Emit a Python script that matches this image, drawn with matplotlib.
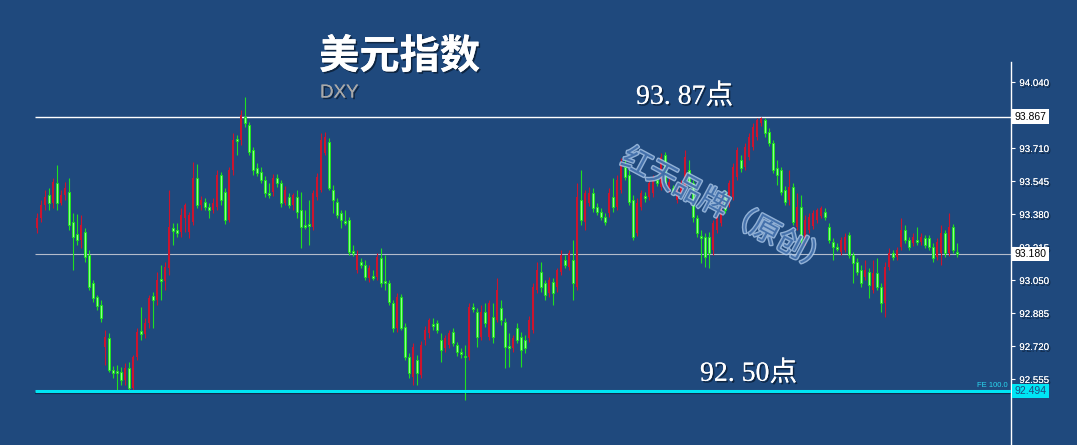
import matplotlib
matplotlib.use('Agg')
import matplotlib.pyplot as plt
import matplotlib.patheffects as pe
import numpy as np

# DXY candles, oldest first
opens = [93.31, 93.36, 93.425, 93.475, 93.435, 93.535, 93.435, 93.475, 93.49, 93.34,
         93.28, 93.25, 93.29, 93.175, 93.035, 92.965, 92.925, 92.715, 92.76, 92.6,
         92.595, 92.59, 92.55, 92.61, 92.51, 92.665, 92.795, 92.78, 92.835, 92.97,
         92.95, 93.055, 93.045, 93.11, 93.31, 93.3, 93.29, 93.36, 93.29, 93.34,
         93.56, 93.425, 93.44, 93.415, 93.4, 93.415, 93.575, 93.49, 93.35, 93.6,
         93.755, 93.75, 93.865, 93.825, 93.7, 93.61, 93.59, 93.55, 93.485, 93.49,
         93.56, 93.535, 93.435, 93.465, 93.425, 93.465, 93.4, 93.325, 93.33, 93.315,
         93.465, 93.5, 93.685, 93.74, 93.5, 93.44, 93.385, 93.345, 93.35, 93.195,
         93.1, 93.14, 93.125, 93.06, 93.07, 93.065, 93.16, 93.045, 93.035, 92.935,
         92.81, 92.965, 92.815, 92.665, 92.565, 92.65, 92.575, 92.75, 92.785, 92.83,
         92.835, 92.75, 92.71, 92.725, 92.79, 92.725, 92.69, 92.67, 92.665, 92.915,
         92.89, 92.765, 92.89, 92.765, 92.865, 92.85, 92.91, 92.84, 92.72, 92.71,
         92.81, 92.765, 92.75, 92.76, 92.8, 93.0, 93.09, 93.035, 92.985, 93.04,
         93.015, 93.09, 93.15, 93.115, 93.15, 93.015, 93.45, 93.34, 93.435, 93.485,
         93.415, 93.39, 93.365, 93.385, 93.465, 93.415, 93.5, 93.615, 93.575, 93.45,
         93.285, 93.415, 93.47, 93.465, 93.485, 93.55, 93.515, 93.675, 93.51, 93.51,
         93.45, 93.485, 93.515, 93.6, 93.535, 93.36, 93.27, 93.265, 93.265, 93.2,
         93.3, 93.335, 93.485, 93.435, 93.465, 93.565, 93.65, 93.615, 93.665, 93.715,
         93.765, 93.835, 93.85, 93.79, 93.735, 93.61, 93.6, 93.5, 93.45, 93.515,
         93.315, 93.415, 93.24, 93.3, 93.32, 93.35, 93.37, 93.39, 93.315, 93.24,
         93.215, 93.19, 93.2, 93.275, 93.175, 93.14, 93.1, 93.065, 93.09, 93.0,
         93.085, 93.015, 92.935, 93.115, 93.185, 93.165, 93.215, 93.3, 93.25, 93.235,
         93.25, 93.24, 93.26, 93.26, 93.215, 93.165, 93.185, 93.285, 93.185, 93.315,
         93.19]
closes = [93.36, 93.425, 93.465, 93.435, 93.54, 93.435, 93.475, 93.51, 93.325, 93.265,
          93.25, 93.325, 93.165, 93.015, 92.96, 92.92, 92.86, 92.765, 92.6, 92.585,
          92.585, 92.55, 92.61, 92.51, 92.665, 92.79, 92.78, 92.835, 92.96, 92.95,
          93.05, 93.045, 93.115, 93.315, 93.295, 93.285, 93.375, 93.425, 93.375, 93.56,
          93.425, 93.45, 93.415, 93.4, 93.435, 93.575, 93.45, 93.35, 93.6, 93.75,
          93.745, 93.875, 93.835, 93.69, 93.6, 93.585, 93.55, 93.485, 93.475, 93.56,
          93.535, 93.435, 93.5, 93.425, 93.475, 93.39, 93.315, 93.315, 93.32, 93.485,
          93.565, 93.75, 93.765, 93.51, 93.45, 93.375, 93.35, 93.335, 93.19, 93.185,
          93.175, 93.125, 93.065, 93.11, 93.06, 93.165, 93.035, 93.035, 92.94, 92.81,
          92.965, 92.81, 92.665, 92.585, 92.715, 92.585, 92.725, 92.8, 92.85, 92.82,
          92.8, 92.7, 92.76, 92.785, 92.735, 92.69, 92.68, 92.665, 92.915, 92.905,
          92.765, 92.89, 92.835, 92.935, 92.765, 93.0, 92.85, 92.715, 92.71, 92.76,
          92.75, 92.7, 92.71, 92.85, 93.015, 93.1, 93.015, 92.975, 93.05, 92.985,
          93.1, 93.175, 93.125, 93.185, 93.035, 93.465, 93.35, 93.485, 93.485, 93.41,
          93.39, 93.365, 93.34, 93.485, 93.415, 93.55, 93.635, 93.565, 93.44, 93.265,
          93.435, 93.485, 93.46, 93.535, 93.55, 93.535, 93.665, 93.535, 93.54, 93.49,
          93.5, 93.535, 93.665, 93.535, 93.365, 93.285, 93.26, 93.165, 93.185, 93.335,
          93.365, 93.465, 93.4, 93.535, 93.615, 93.7, 93.61, 93.715, 93.765, 93.815,
          93.85, 93.86, 93.785, 93.735, 93.6, 93.575, 93.49, 93.44, 93.515, 93.34,
          93.415, 93.25, 93.35, 93.365, 93.385, 93.4, 93.41, 93.365, 93.25, 93.215,
          93.205, 93.25, 93.265, 93.175, 93.135, 93.09, 93.035, 93.1, 93.025, 93.085,
          93.015, 92.935, 93.115, 93.185, 93.165, 93.2, 93.3, 93.25, 93.215, 93.265,
          93.24, 93.265, 93.225, 93.215, 93.16, 93.24, 93.285, 93.185, 93.315, 93.2,
          93.18]
highs = [93.385, 93.45, 93.5, 93.51, 93.56, 93.625, 93.5, 93.54, 93.56, 93.385,
         93.38, 93.375, 93.31, 93.2, 93.05, 92.975, 92.95, 92.8, 92.785, 92.62,
         92.625, 92.615, 92.635, 92.64, 92.675, 92.81, 92.915, 92.86, 92.975, 92.99,
         93.09, 93.125, 93.14, 93.5, 93.335, 93.335, 93.41, 93.435, 93.39, 93.64,
         93.63, 93.47, 93.46, 93.435, 93.46, 93.6, 93.59, 93.51, 93.615, 93.785,
         93.775, 93.9, 93.965, 93.84, 93.715, 93.635, 93.615, 93.57, 93.535, 93.58,
         93.58, 93.55, 93.52, 93.485, 93.485, 93.5, 93.49, 93.4, 93.45, 93.5,
         93.585, 93.785, 93.79, 93.76, 93.525, 93.46, 93.4, 93.4, 93.365, 93.225,
         93.2, 93.16, 93.15, 93.125, 93.1, 93.185, 93.21, 93.175, 93.05, 92.95,
         92.985, 92.98, 92.835, 92.685, 92.735, 92.675, 92.745, 92.82, 92.86, 92.86,
         92.85, 92.785, 92.775, 92.8, 92.81, 92.74, 92.71, 92.725, 92.935, 92.935,
         92.91, 92.925, 92.935, 92.95, 92.935, 93.06, 92.95, 92.86, 92.785, 92.775,
         92.835, 92.79, 92.775, 92.87, 93.035, 93.14, 93.14, 93.05, 93.065, 93.06,
         93.11, 93.2, 93.175, 93.2, 93.25, 93.535, 93.6, 93.5, 93.515, 93.51,
         93.435, 93.41, 93.385, 93.51, 93.56, 93.575, 93.66, 93.65, 93.6, 93.475,
         93.46, 93.5, 93.49, 93.55, 93.575, 93.575, 93.685, 93.69, 93.56, 93.525,
         93.525, 93.55, 93.7, 93.65, 93.55, 93.375, 93.3, 93.285, 93.29, 93.35,
         93.385, 93.485, 93.5, 93.55, 93.635, 93.715, 93.675, 93.735, 93.785, 93.835,
         93.86, 93.865, 93.86, 93.81, 93.75, 93.65, 93.615, 93.52, 93.6, 93.535,
         93.485, 93.475, 93.375, 93.385, 93.4, 93.41, 93.42, 93.41, 93.335, 93.26,
         93.235, 93.265, 93.285, 93.29, 93.19, 93.16, 93.125, 93.15, 93.11, 93.15,
         93.16, 93.035, 93.14, 93.21, 93.2, 93.215, 93.36, 93.325, 93.265, 93.285,
         93.315, 93.285, 93.275, 93.275, 93.235, 93.26, 93.325, 93.3, 93.385, 93.33,
         93.235]
lows = [93.285, 93.34, 93.4, 93.4, 93.41, 93.4, 93.425, 93.45, 93.3, 93.1,
        93.225, 93.21, 93.14, 93.0, 92.94, 92.9, 92.84, 92.625, 92.59, 92.56,
        92.5, 92.525, 92.525, 92.495, 92.49, 92.65, 92.75, 92.76, 92.81, 92.81,
        92.925, 92.95, 93.0, 93.075, 93.225, 93.265, 93.265, 93.29, 93.26, 93.325,
        93.41, 93.4, 93.4, 93.36, 93.385, 93.4, 93.425, 93.33, 93.34, 93.575,
        93.675, 93.725, 93.815, 93.675, 93.575, 93.57, 93.535, 93.465, 93.46, 93.47,
        93.515, 93.415, 93.425, 93.41, 93.4, 93.36, 93.21, 93.305, 93.225, 93.3,
        93.45, 93.49, 93.675, 93.5, 93.385, 93.36, 93.31, 93.325, 93.175, 93.17,
        93.085, 93.11, 93.05, 93.04, 93.05, 93.05, 93.015, 93.0, 92.925, 92.79,
        92.79, 92.8, 92.65, 92.56, 92.525, 92.525, 92.56, 92.725, 92.76, 92.8,
        92.785, 92.64, 92.69, 92.71, 92.72, 92.67, 92.66, 92.45, 92.65, 92.89,
        92.715, 92.75, 92.815, 92.75, 92.735, 92.84, 92.825, 92.61, 92.615, 92.69,
        92.735, 92.615, 92.685, 92.74, 92.785, 92.985, 92.99, 92.95, 92.965, 92.925,
        92.99, 93.075, 93.11, 93.1, 92.95, 93.0, 93.325, 93.3, 93.42, 93.39,
        93.375, 93.35, 93.325, 93.365, 93.39, 93.4, 93.485, 93.55, 93.425, 93.25,
        93.27, 93.4, 93.44, 93.45, 93.465, 93.52, 93.5, 93.515, 93.49, 93.475,
        93.435, 93.465, 93.5, 93.52, 93.34, 93.265, 93.135, 93.115, 93.11, 93.175,
        93.285, 93.32, 93.385, 93.415, 93.45, 93.55, 93.59, 93.6, 93.65, 93.7,
        93.75, 93.82, 93.765, 93.72, 93.585, 93.525, 93.475, 93.425, 93.425, 93.325,
        93.3, 93.235, 93.225, 93.285, 93.305, 93.335, 93.36, 93.35, 93.235, 93.15,
        93.195, 93.175, 93.19, 93.16, 93.035, 93.075, 93.015, 93.05, 92.96, 92.985,
        93.0, 92.89, 92.865, 93.1, 93.15, 93.15, 93.2, 93.235, 93.2, 93.22,
        93.225, 93.225, 93.21, 93.2, 93.14, 93.15, 93.125, 93.165, 93.17, 93.185,
        93.165]

tick_values = [94.040, 93.710, 93.545, 93.380, 93.215, 93.050, 92.885, 92.720, 92.555]
resistance = 93.867
last_price = 93.180
support = 92.494

bg = '#1f497d'
up_color = '#cc142e'
down_edge = '#1fe01f'
down_face = '#8cff8c'

W, H = 1077, 445
fig = plt.figure(figsize=(W / 100, H / 100), dpi=100)
fig.patch.set_facecolor(bg)
ax = fig.add_axes([0, 0, 1011 / W, 383 / H])
ax.set_facecolor(bg)

o = np.array(opens)
c = np.array(closes)
h = np.array(highs)
l = np.array(lows)
x = np.arange(len(c))
up = c >= o

ax.set_xlim(-37 / 4, 974 / 4)
ax.set_ylim(92.225, 94.14)

shadow = [pe.withSimplePatchShadow(offset=(1.2, -1.2), shadow_rgbFace='#081628', alpha=0.7), pe.Normal()]

# level lines
x_end = 974 / 4
ax.hlines(resistance, -0.5, x_end, color='white', lw=1.0, zorder=1)
ax.hlines(last_price, -0.5, x_end, color='#b4bccb', lw=0.8, zorder=1)
ax.hlines(support - 0.011, -0.5, x_end, color='#10284a', lw=1.6, zorder=1)
ax.hlines(support, -0.5, x_end, color='#00e5f5', lw=2.2, zorder=4)

# candles
ax.vlines(x[up], l[up], h[up], color=up_color, lw=0.8, zorder=2)
ax.vlines(x[~up], l[~up], h[~up], color=down_edge, lw=0.8, zorder=2)
body_low = np.minimum(o, c)
body_h = np.maximum(np.abs(c - o), 0.004)
ax.bar(x[up], body_h[up], bottom=body_low[up], width=0.6, color=up_color,
       linewidth=0, zorder=3)
ax.bar(x[~up], body_h[~up], bottom=body_low[~up], width=0.7, facecolor=down_face,
       edgecolor=down_edge, linewidth=0.7, zorder=3)

# axes styling
for side in ['top', 'left', 'bottom']:
    ax.spines[side].set_visible(False)
ax.spines['right'].set_color('white')
ax.spines['right'].set_linewidth(1.0)
ax.set_xticks([])
ax.yaxis.tick_right()
ax.set_yticks(tick_values)
ax.set_yticklabels(['%.3f' % v for v in tick_values])
ax.tick_params(axis='y', colors='white', labelsize=7, length=3, width=0.8, pad=3)
for t in ax.get_yticklabels():
    t.set_fontfamily('Liberation Sans')
    t.set_path_effects(shadow)

# price tags on the axis
def tag(value, fc, tc):
    ax.annotate('%.3f' % value, xy=(1.0, value), xycoords=('axes fraction', 'data'),
                xytext=(2.5, 0), textcoords='offset points', ha='left', va='center',
                fontsize=7.5, family='Liberation Sans', color=tc, annotation_clip=False,
                zorder=6, bbox=dict(boxstyle='square,pad=0.22', fc=fc, ec='none'))

tag(resistance, 'white', 'black')
tag(last_price, 'white', 'black')
tag(support, '#00e5f5', '#1f497d')

ax.text(0.997, support + 0.03, 'FE 100.0', transform=ax.get_yaxis_transform(),
        ha='right', va='center', fontsize=5.5, color='#2ad8f0', family='Liberation Sans')

# titles
cjk = ['Noto Sans CJK SC', 'DejaVu Sans']
serif = ['Liberation Serif', 'Noto Sans CJK SC']
fig.text(319 / W, 1 - 57 / H, '美元指数', fontsize=29, fontweight='bold', color='white',
         family=cjk, ha='left', va='center', path_effects=shadow)
fig.text(320 / W, 1 - 93 / H, 'DXY', fontsize=13.5, color='#a9a9a9',
         family='Liberation Sans', ha='left', va='center', path_effects=shadow)
fig.text(636 / W, 1 - 97 / H, '93. 87点', fontsize=20, color='white',
         family=serif, ha='left', va='center', path_effects=shadow)
fig.text(700 / W, 1 - 374 / H, '92. 50点', fontsize=20, color='white',
         family=serif, ha='left', va='center', path_effects=shadow)

# watermark
fig.text(726 / W, 1 - 211 / H, '红天品牌（原创）', fontsize=21, color='#3c6aa6', alpha=0.9,
         family=cjk, rotation=-28, ha='center', va='center',
         path_effects=[pe.withStroke(linewidth=2, foreground='#b8d4f4', alpha=0.75)])

fig.savefig('out.png', dpi=100, facecolor=bg)
